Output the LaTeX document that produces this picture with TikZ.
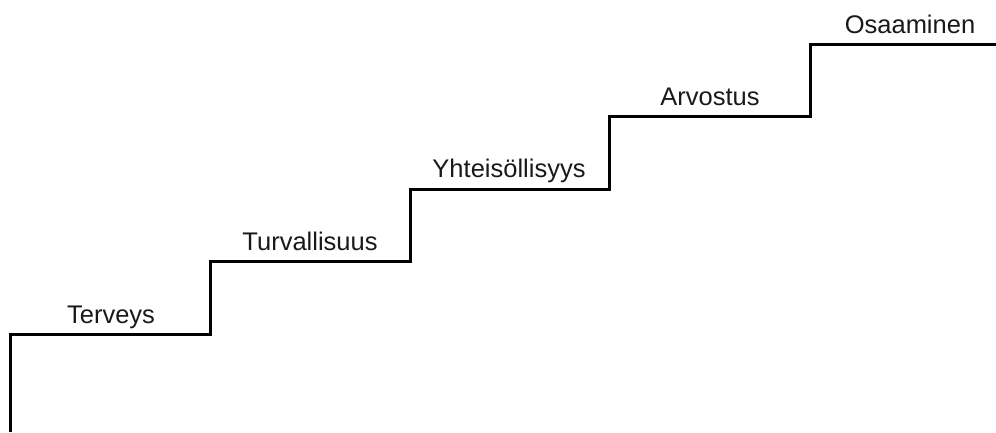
\documentclass[tikz,border=0pt]{standalone}
\usepackage{fontspec}
\setmainfont{Liberation Sans}
\begin{document}
\begin{tikzpicture}[x=1pt,y=-1pt,
  stair/.style={line width=3pt, line join=miter},
  lbl/.style={anchor=base, inner sep=0pt, font=\fontsize{25.5}{30}\selectfont, text=black!90}]
\useasboundingbox (0,0) rectangle (996,432);
\coordinate (s0) at (10,432);
\coordinate (s1) at (10,334);
\coordinate (s2) at (210,334);
\coordinate (s3) at (210,261);
\coordinate (s4) at (410,261);
\coordinate (s5) at (410,189);
\coordinate (s6) at (609,189);
\coordinate (s7) at (609,116);
\coordinate (s8) at (810,116);
\coordinate (s9) at (810,44);
\coordinate (s10) at (997,44);
\draw[stair] (s0) -- (s1) -- (s2) -- (s3) -- (s4) -- (s5) -- (s6) -- (s7) -- (s8) -- (s9) -- (s10);
\node[lbl] (t1) at (111,323) {Terveys};
\node[lbl] (t2) at (310,250) {Turvallisuus};
\node[lbl] (t3) at (509,177) {Yhteisöllisyys};
\node[lbl] (t4) at (710,105) {Arvostus};
\node[lbl] (t5) at (910,33) {Osaaminen};
\end{tikzpicture}
\end{document}
